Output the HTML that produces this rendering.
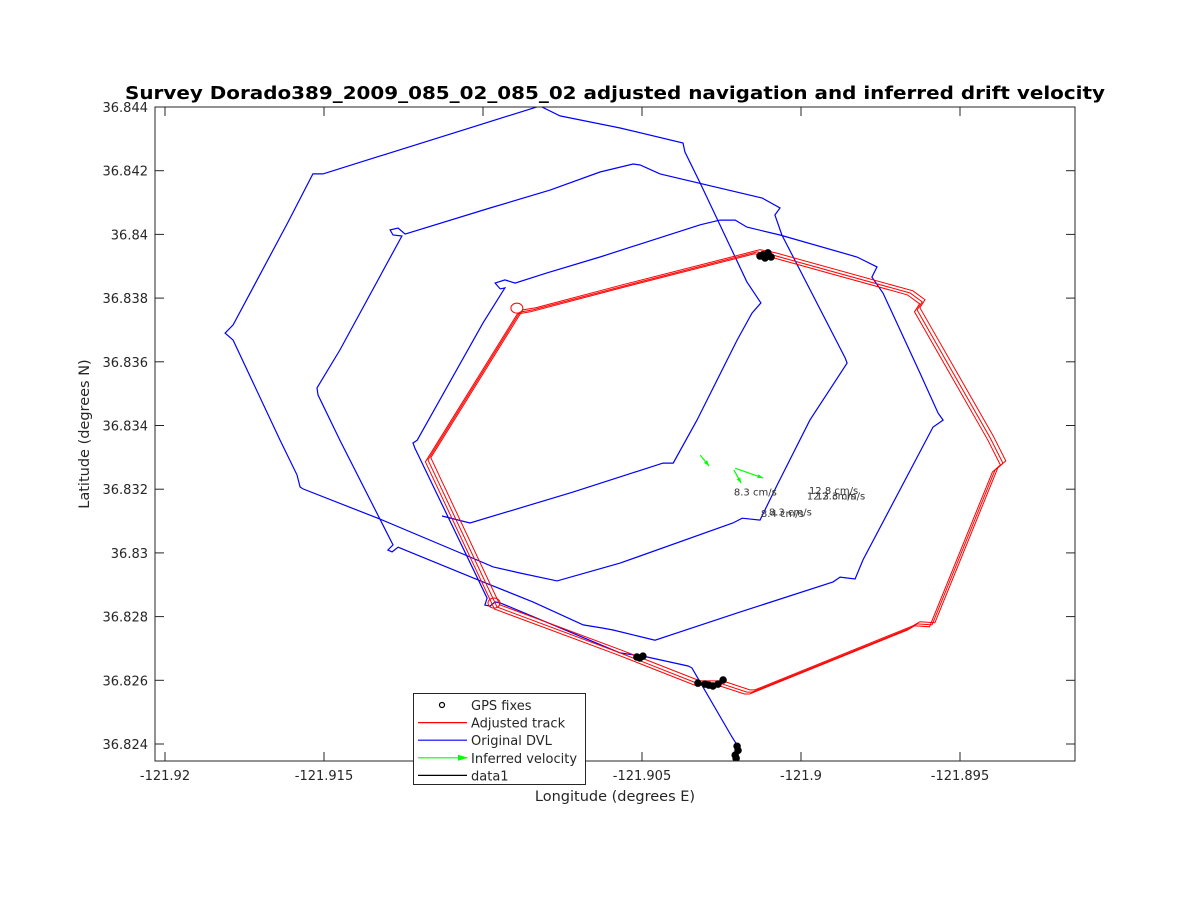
<!DOCTYPE html>
<html><head><meta charset="utf-8"><style>
html,body{margin:0;padding:0;background:#fff;}
svg{display:block;font-family:"DejaVu Sans","Liberation Sans",sans-serif;}
</style></head><body>
<svg id="chart" width="1188" height="900" viewBox="0 0 1188 900"></svg>
<script>
// ---- data ----
const xTicks = [-121.92, -121.915, -121.91, -121.905, -121.9, -121.895];
const xTickLabels = ["-121.92","-121.915","-121.91","-121.905","-121.9","-121.895"];
const yTicks = [36.824,36.826,36.828,36.83,36.832,36.834,36.836,36.838,36.84,36.842,36.844];
const yTickLabels = ["36.824","36.826","36.828","36.83","36.832","36.834","36.836","36.838","36.84","36.842","36.844"];
const dvlLon = [-121.91129,-121.91041,-121.90717,-121.90434,-121.90402,-121.90327,-121.90201,-121.90154,-121.90126,-121.90170,-121.90317,-121.90365,-121.90371,-121.90569,-121.90758,-121.90821,-121.91503,-121.91535,-121.91613,-121.91786,-121.91811,-121.91786,-121.91638,-121.91585,-121.91575,-121.91566,-121.91324,-121.91041,-121.90968,-121.90884,-121.90767,-121.90569,-121.90214,-121.90185,-121.90129,-121.90075,-121.89972,-121.89855,-121.89861,-121.90060,-121.90082,-121.90066,-121.90122,-121.90443,-121.90506,-121.90528,-121.90632,-121.90789,-121.90978,-121.91245,-121.91267,-121.91292,-121.91283,-121.91255,-121.91450,-121.91522,-121.91519,-121.91450,-121.91283,-121.91299,-121.91286,-121.91267,-121.91000,-121.90843,-121.90685,-121.90623,-121.90591,-121.90459,-121.90192,-121.89899,-121.89877,-121.89830,-121.89805,-121.89585,-121.89553,-121.89569,-121.89626,-121.89742,-121.89777,-121.89761,-121.89824,-121.90066,-121.90170,-121.90207,-121.90255,-121.90317,-121.90632,-121.90799,-121.90899,-121.90931,-121.90962,-121.90946,-121.90931,-121.91000,-121.91207,-121.91220,-121.91214,-121.90987,-121.90994,-121.90978,-121.90962,-121.90946,-121.90569,-121.90484,-121.90355,-121.90343,-121.90217,-121.90201,-121.90201];
const dvlLat = [36.83116,36.83094,36.83191,36.83282,36.83282,36.83417,36.83668,36.83753,36.83785,36.83851,36.84161,36.84259,36.84287,36.84334,36.84372,36.84403,36.84190,36.84190,36.84039,36.83716,36.83690,36.83668,36.83354,36.83245,36.83207,36.83201,36.83106,36.82987,36.82956,36.82937,36.82912,36.82968,36.83094,36.83109,36.83103,36.83213,36.83417,36.83596,36.83612,36.83998,36.84061,36.84083,36.84114,36.84190,36.84218,36.84221,36.84196,36.84139,36.84083,36.84001,36.84020,36.84014,36.83998,36.83995,36.83637,36.83518,36.83496,36.83354,36.83025,36.83009,36.83003,36.83018,36.82909,36.82846,36.82774,36.82764,36.82758,36.82726,36.82814,36.82909,36.82924,36.82918,36.82978,36.83395,36.83417,36.83439,36.83565,36.83816,36.83866,36.83898,36.83929,36.83998,36.84023,36.84045,36.84045,36.84030,36.83929,36.83879,36.83847,36.83857,36.83847,36.83829,36.83832,36.83722,36.83354,36.83345,36.83329,36.82858,36.82836,36.82833,36.82846,36.82843,36.82686,36.82673,36.82645,36.82639,36.82422,36.82397,36.82350];
const adjLon = [-121.90884,-121.90843,-121.90569,-121.90138,-121.90088,-121.89657,-121.89619,-121.89635,-121.89405,-121.89365,-121.89390,-121.89588,-121.89635,-121.89657,-121.90154,-121.90170,-121.90255,-121.90327,-121.90569,-121.90956,-121.91173,-121.90884];
const adjLat = [36.83756,36.83763,36.83835,36.83945,36.83935,36.83816,36.83788,36.83763,36.83361,36.83282,36.83260,36.82774,36.82777,36.82764,36.82563,36.82563,36.82591,36.82591,36.82686,36.82830,36.83292,36.83756];
const lapOffsetLon = [0, 0.00009, -0.00008];
const lapOffsetLat = [0, 0.00007, -0.00006];
const gpsLon = [-121.90129,-121.90113,-121.90094,-121.90104,-121.90120,-121.90516,-121.90497,-121.90507,-121.90324,-121.90302,-121.90277,-121.90261,-121.90245,-121.90290,-121.90201,-121.90207,-121.90198,-121.90204];
const gpsLat = [36.83932,36.83926,36.83929,36.83942,36.83936,36.82673,36.82676,36.82670,36.82591,36.82588,36.82582,36.82588,36.82601,36.82585,36.82393,36.82365,36.82380,36.82355];
const velStartLon = [-121.90317,-121.90207,-121.90211];
const velStartLat = [36.83307,36.83266,36.83260];
const velEndLon = [-121.90289,-121.90119,-121.90188];
const velEndLat = [36.83273,36.83235,36.83219];
const velLabels = ["8.3 cm/s","12.8 cm/s","12.3 cm/s","12.3 cm/s","8.4 cm/s","8.3 cm/s"];
const velLabelLon = [-121.90211,-121.89975,-121.89982,-121.89953,-121.90126,-121.90101];
const velLabelLat = [36.83180,36.83185,36.83168,36.83168,36.83113,36.83118];

// ---- axes ----
const L=155, R=1075, T=107, B=761;
const X = lon => 165 + (lon - (-121.92)) * 31800;
const Y = lat => 744 - (lat - 36.824) * 31850;
const NS="http://www.w3.org/2000/svg";
const svg=document.getElementById('chart');
function mk(tag, attrs, parent){const e=document.createElementNS(NS,tag);for(const k in attrs)e.setAttribute(k,attrs[k]);(parent||svg).appendChild(e);return e;}

const clip=mk('clipPath',{id:'pc'});mk('rect',{x:L,y:T,width:R-L,height:B-T},clip);
const plot=mk('rect',{x:L,y:T,width:R-L,height:B-T,fill:'#fff'});



const g=mk('g',{'clip-path':'url(#pc)'});
const dvl=mk('polyline',{points:dvlLon.map((v,i)=>X(v).toFixed(1)+','+Y(dvlLat[i]).toFixed(1)).join(' '),fill:'none',stroke:'#0000ff','stroke-width':1.2},g);


lapOffsetLon.forEach((o,j)=>{
  const p=mk('polyline',{points:adjLon.map((v,i)=>X(v+o).toFixed(1)+','+Y(adjLat[i]+lapOffsetLat[j]).toFixed(1)).join(' '),fill:'none',stroke:'#ff0000','stroke-width':1},g);
  
  
});
[0,19].forEach(i=>{
  const c=mk('ellipse',{cx:X(adjLon[i])-3,cy:Y(adjLat[i])-4,rx:6,ry:5,fill:'none',stroke:'#ff0000','stroke-width':1},g);
  
  
});
gpsLon.forEach((v,i)=>{
  const c=mk('circle',{cx:X(v),cy:Y(gpsLat[i]),r:3,fill:'#000',stroke:'#000','stroke-width':1.5},g);
  
  
});
velStartLon.forEach((v,i)=>{
  const x1=X(v),y1=Y(velStartLat[i]),x2=X(velEndLon[i]),y2=Y(velEndLat[i]);
  const a=mk('line',{x1,y1,x2,y2,stroke:'#00ff00','stroke-width':1.2},g);
  
  
  const ang=Math.atan2(y2-y1,x2-x1),h=6;
  const hd=mk('polygon',{points:`${x2},${y2} ${x2-h*Math.cos(ang-0.35)},${y2-h*Math.sin(ang-0.35)} ${x2-h*Math.cos(ang+0.35)},${y2-h*Math.sin(ang+0.35)}`,fill:'#00ff00'},g);
  
  
});
velLabels.forEach((s,i)=>{
  const t=mk('text',{x:X(velLabelLon[i]),y:Y(velLabelLat[i]),'font-size':10,fill:'#333'},g);
  t.textContent=s;
  
  
});

const box=mk('rect',{x:L,y:T,width:R-L,height:B-T,fill:'none',stroke:'#262626','stroke-width':1});


xTicks.forEach((v,i)=>{
  const x=X(v);
  mk('line',{x1:x,y1:B,x2:x,y2:B-9,stroke:'#262626'});
  mk('line',{x1:x,y1:T,x2:x,y2:T+9,stroke:'#262626'});
  const t=mk('text',{x:x,y:B+19,'font-size':13,fill:'#262626','text-anchor':'middle'});
  t.textContent=xTickLabels[i];
  
  
});
yTicks.forEach((v,i)=>{
  const y=Y(v);
  mk('line',{x1:L,y1:y,x2:L+9,y2:y,stroke:'#262626'});
  mk('line',{x1:R,y1:y,x2:R-9,y2:y,stroke:'#262626'});
  const t=mk('text',{x:L-7,y:y+5,'font-size':13,fill:'#262626','text-anchor':'end'});
  t.textContent=yTickLabels[i];
  
  
});

const title=mk('text',{x:615,y:99,'font-size':18,'font-weight':'bold','text-anchor':'middle',fill:'#000',textLength:980,lengthAdjust:'spacingAndGlyphs'});
title.textContent='Survey Dorado389_2009_085_02_085_02 adjusted navigation and inferred drift velocity';


const xl=mk('text',{x:615,y:801,'font-size':14.5,'text-anchor':'middle',fill:'#262626'});
xl.textContent='Longitude (degrees E)';


const yl=mk('text',{x:0,y:0,'font-size':14.5,'text-anchor':'middle',fill:'#262626',transform:'translate(89,434) rotate(-90)'});
yl.textContent='Latitude (degrees N)';



const lg=mk('g',{});


mk('rect',{x:413.5,y:693.5,width:172,height:91,fill:'#fff',stroke:'#262626'},lg);
const entries=['GPS fixes','Adjusted track','Original DVL','Inferred velocity','data1'];
const cols=['#000','#ff0000','#0000ff','#00ff00','#000'];
entries.forEach((s,i)=>{
  const y=705+i*17.6;
  const e=mk('g',{},lg);
  
  
  if(i===0){mk('circle',{cx:442,cy:y,r:2.5,fill:'none',stroke:'#000','stroke-width':1.2},e);}
  else{mk('line',{x1:418,y1:y,x2:467,y2:y,stroke:cols[i],'stroke-width':1.2},e);}
  if(i===3){mk('polygon',{points:`468,${y} 458,${y-3} 458,${y+3}`,fill:'#00ff00'},e);}
  const t=mk('text',{x:471,y:y+5,'font-size':13,fill:'#262626'},e);
  t.textContent=s;
});
</script>
</body></html>
